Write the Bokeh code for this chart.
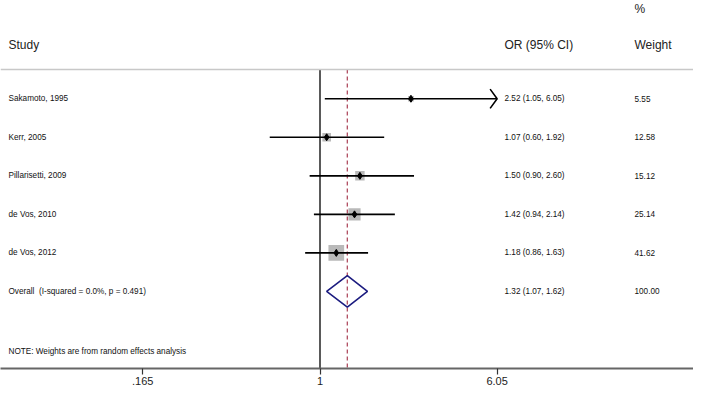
import math
from bokeh.plotting import figure
from bokeh.models import Range1d, FixedTicker, Span
from bokeh.core.properties import value
from bokeh.embed import file_html
from bokeh.resources import INLINE

# ---------------- data ----------------
STUDIES = ["Sakamoto, 1995", "Kerr, 2005", "Pillarisetti, 2009", "de Vos, 2010", "de Vos, 2012"]
OR_EST = [2.52, 1.07, 1.50, 1.42, 1.18]
OR_LO = [1.05, 0.60, 0.90, 0.94, 0.86]
OR_HI = [6.05, 1.92, 2.60, 2.14, 1.63]
WEIGHTS = [5.55, 12.58, 15.12, 25.14, 41.62]

OVERALL_LABEL = "Overall\u00a0 (I-squared = 0.0%, p = 0.491)"
OVERALL_EST = 1.32
OVERALL_LO = 1.07
OVERALL_HI = 1.62
OVERALL_WEIGHT = 100.00

NOTE = "NOTE: Weights are from random effects analysis"
TICK_VALUES = [0.165, 1, 6.05]
TICK_LABELS = [".165", "1", "6.05"]
X_MAX = 6.05  # upper display limit (CI clipped with arrow)

# ---------------- layout ----------------
W, H = 693, 387
FONT = "Liberation Sans"
CENTER_PX = 319.5      # pixel (within figure) of OR = 1
PX_PER_LN = 98.4       # pixels per unit of ln(OR)


def px2x(px):
    return math.exp((px - CENTER_PX) / PX_PER_LN)


x_start, x_end = px2x(0), px2x(W)
y_top, y_bottom = -1.55, 8.0

p = figure(width=W, height=H, x_axis_type="log",
           x_range=Range1d(x_start, x_end), y_range=Range1d(y_bottom, y_top),
           y_axis_location=None, toolbar_location=None, output_backend="svg",
           min_border=0, min_border_left=0, min_border_right=0,
           min_border_top=0, min_border_bottom=0,
           outline_line_color=None, background_fill_color="white",
           border_fill_color="white")
p.xgrid.visible = False
p.ygrid.visible = False

rows = list(range(1, len(STUDIES) + 1))
overall_row = len(STUDIES) + 1
note_row = overall_row + 1.55
sep_row = 0.24
header_row = -0.4
pct_row = -1.33

# separator line under headers
p.add_layout(Span(location=sep_row, dimension="width", line_color="#c8c8c8", line_width=1.6))

# null line and overall dashed line
p.segment(x0=[1], y0=[sep_row], x1=[1], y1=[y_bottom], line_color="black", line_width=1.3)
p.segment(x0=[OVERALL_EST], y0=[sep_row], x1=[OVERALL_EST], y1=[y_bottom],
          line_color="#b04c60", line_width=1.3, line_dash="4 3")

# weight boxes (area proportional to weight)
sizes = [2.43 * math.sqrt(w) for w in WEIGHTS]
p.scatter(OR_EST, rows, marker="square", size=sizes, fill_color="#b9b9b9",
          line_color=None)

# CI lines (clipped at display max)
hi_clip = [min(h, X_MAX) for h in OR_HI]
p.segment(x0=OR_LO, y0=rows, x1=hi_clip, y1=rows, line_color="black", line_width=1.6)

# arrow chevrons for clipped intervals
arm = math.exp(-7 / PX_PER_LN)
chev_xs, chev_ys = [], []
for h, r in zip(OR_HI, rows):
    if h >= X_MAX:
        chev_xs.append([X_MAX * arm, X_MAX, X_MAX * arm])
        chev_ys.append([r - 0.25, r, r + 0.25])
if chev_xs:
    p.multi_line(chev_xs, chev_ys, line_color="black", line_width=1.6)

# point estimates
p.scatter(OR_EST, rows, marker="diamond", size=7, fill_color="black", line_color="black")

# overall diamond
p.patch([OVERALL_LO, OVERALL_EST, OVERALL_HI, OVERALL_EST],
        [overall_row, overall_row - 0.41, overall_row, overall_row + 0.41],
        fill_color=None, line_color="#1c1c80", line_width=1.6)

# ---------------- texts ----------------
x_study = px2x(8)
x_or = px2x(504)
x_wt = px2x(634)

# headers
p.text(x=[x_study, x_or, x_wt], y=[header_row] * 3, text=["Study", "OR (95% CI)", "Weight"],
       text_font=value(FONT), text_font_size="12px", text_color="#222222",
       text_baseline="middle", text_align="left")
p.text(x=[x_wt], y=[pct_row], text=["%"], text_font=value(FONT), text_font_size="12px",
       text_color="#222222", text_baseline="middle", text_align="left")

labels = STUDIES + [OVERALL_LABEL]
or_txt = [f"{o:.2f} ({l:.2f}, {h:.2f})" for o, l, h in zip(OR_EST, OR_LO, OR_HI)]
or_txt.append(f"{OVERALL_EST:.2f} ({OVERALL_LO:.2f}, {OVERALL_HI:.2f})")
wt_txt = [f"{w:.2f}" for w in WEIGHTS] + [f"{OVERALL_WEIGHT:.2f}"]
all_rows = rows + [overall_row]

for xpos, txt in ((x_study, labels), (x_or, or_txt), (x_wt, wt_txt)):
    p.text(x=[xpos] * len(txt), y=all_rows, text=txt, text_font=value(FONT),
           text_font_size="8.2px", text_color="#111111", text_baseline="middle",
           text_align="left")

p.text(x=[x_study], y=[note_row], text=[NOTE], text_font=value(FONT),
       text_font_size="8.2px", text_color="#111111", text_baseline="middle",
       text_align="left")

# ---------------- axis ----------------
ax = p.xaxis[0]
ax.ticker = FixedTicker(ticks=TICK_VALUES)
ax.major_label_overrides = dict(zip(TICK_VALUES, TICK_LABELS))
ax.minor_tick_line_color = None
ax.major_tick_in = 0
ax.major_tick_out = 6
ax.major_tick_line_color = "#333333"
ax.major_tick_line_width = 1.2
ax.axis_line_color = "#666666"
ax.axis_line_width = 1.8
ax.major_label_standoff = 2
ax.major_label_text_font = FONT
ax.major_label_text_font_size = "11px"
ax.major_label_text_color = "#222222"

open("out.html", "w").write(file_html(p, INLINE))
